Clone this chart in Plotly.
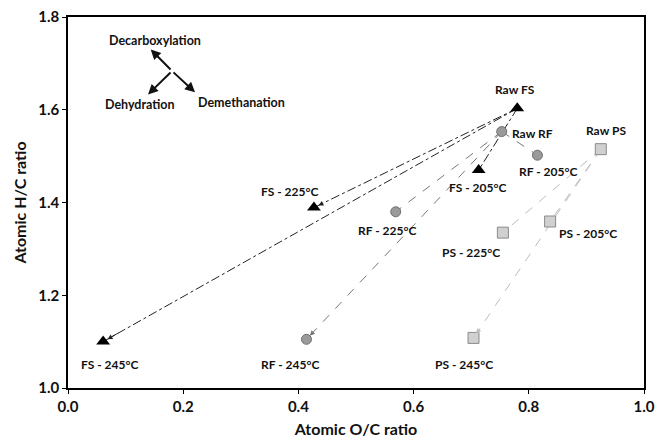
import plotly.graph_objects as go

# Data (atomic O/C, H/C)
fs_labels = ["Raw FS", "FS - 205°C", "FS - 225°C", "FS - 245°C"]
fs_oc = [0.780, 0.713, 0.427, 0.061]
fs_hc = [1.603, 1.470, 1.389, 1.100]

rf_labels = ["Raw RF", "RF - 205°C", "RF - 225°C", "RF - 245°C"]
rf_oc = [0.753, 0.815, 0.569, 0.414]
rf_hc = [1.553, 1.502, 1.380, 1.105]

ps_labels = ["Raw PS", "PS - 205°C", "PS - 225°C", "PS - 245°C"]
ps_oc = [0.925, 0.837, 0.755, 0.704]
ps_hc = [1.515, 1.359, 1.335, 1.108]

# label positions (data coords)
fs_lab_x = [0.776, 0.711, 0.385, 0.072]
fs_lab_y = [1.643, 1.432, 1.423, 1.050]
rf_lab_x = [0.806, 0.834, 0.554, 0.385]
rf_lab_y = [1.549, 1.466, 1.339, 1.050]
ps_lab_x = [0.934, 0.902, 0.700, 0.688]
ps_lab_y = [1.556, 1.334, 1.293, 1.050]

x_ticks = [0.0, 0.2, 0.4, 0.6, 0.8, 1.0]
y_ticks = [1.0, 1.2, 1.4, 1.6, 1.8]

FONT = "Lato"
TXT = "#111111"
fig = go.Figure()

series = [
    (fs_oc, fs_hc, "#222222", "dashdot", dict(symbol="triangle-up", size=12, color="black", line=dict(width=0))),
    (rf_oc, rf_hc, "#777777", "dash", dict(symbol="circle", size=10, color="#9a9a9a", line=dict(color="#6e6e6e", width=1))),
    (ps_oc, ps_hc, "#bdbdbd", "dash", dict(symbol="square", size=11, color="#d0d0d0", line=dict(color="#8a8a8a", width=1))),
]

annotations = []
for ox, hy, col, dash, mk in series:
    for i in range(1, len(ox)):
        fig.add_trace(go.Scatter(x=[ox[0], ox[i]], y=[hy[0], hy[i]], mode="lines",
                                 line=dict(color=col, width=1, dash=dash),
                                 showlegend=False, hoverinfo="skip"))
        # arrowhead at treated point
        annotations.append(dict(x=ox[i], y=hy[i], xref="x", yref="y",
                                ax=ox[i] + 0.04 * (ox[0] - ox[i]), ay=hy[i] + 0.04 * (hy[0] - hy[i]),
                                axref="x", ayref="y", showarrow=True, arrowhead=2,
                                arrowsize=1.0, arrowwidth=1, arrowcolor=col, text="",
                                standoff=5))

for ox, hy, col, dash, mk in series:
    fig.add_trace(go.Scatter(x=ox, y=hy, mode="markers", marker=mk, showlegend=False))

for labs, lx, ly in [(fs_labels, fs_lab_x, fs_lab_y), (rf_labels, rf_lab_x, rf_lab_y), (ps_labels, ps_lab_x, ps_lab_y)]:
    for t, x, y in zip(labs, lx, ly):
        annotations.append(dict(x=x, y=y, xref="x", yref="y", text="<b>%s</b>" % t,
                                showarrow=False, font=dict(family=FONT, size=12, color=TXT)))

# reaction pathway arrows
center = (0.1806, 1.6836)
ends = [(0.1436, 1.730), (0.2205, 1.6376), (0.1389, 1.633)]
for ex, ey in ends:
    annotations.append(dict(x=ex, y=ey, xref="x", yref="y", ax=center[0], ay=center[1],
                            axref="x", ayref="y", showarrow=True, arrowhead=2, arrowsize=1,
                            arrowwidth=2, arrowcolor="#111", text=""))
for t, x, y in [("Decarboxylation", 0.151, 1.749), ("Dehydration", 0.125, 1.612), ("Demethanation", 0.3015, 1.615)]:
    annotations.append(dict(x=x, y=y, xref="x", yref="y", text="<b>%s</b>" % t,
                            showarrow=False, font=dict(family=FONT, size=12.5, color=TXT)))

fig.update_layout(
    width=656, height=439,
    margin=dict(l=68, r=12, t=17, b=51),
    paper_bgcolor="white", plot_bgcolor="white",
    annotations=annotations,
    font=dict(family=FONT, color=TXT),
    xaxis=dict(range=[0, 1], tickvals=x_ticks, ticktext=["<b>%.1f</b>" % v for v in x_ticks],
               automargin=False,
               showgrid=False, zeroline=False, showline=True, linecolor="black", linewidth=1.5,
               mirror=True, ticks="outside", ticklen=4, tickcolor="black",
               tickfont=dict(size=15, family=FONT, color=TXT),
               title=dict(text="<b>Atomic O/C ratio</b>", font=dict(size=16, family=FONT, color=TXT), standoff=10)),
    yaxis=dict(range=[1.0, 1.8], tickvals=y_ticks, ticktext=["<b>%.1f</b>" % v for v in y_ticks],
               automargin=False,
               showgrid=False, zeroline=False, showline=True, linecolor="black", linewidth=1.5,
               mirror=True, ticks="outside", ticklen=4, tickcolor="black",
               tickfont=dict(size=15, family=FONT, color=TXT),
               title=dict(text="<b>Atomic H/C ratio</b>", font=dict(size=16, family=FONT, color=TXT), standoff=8)),
)

fig.write_html("out.html")
